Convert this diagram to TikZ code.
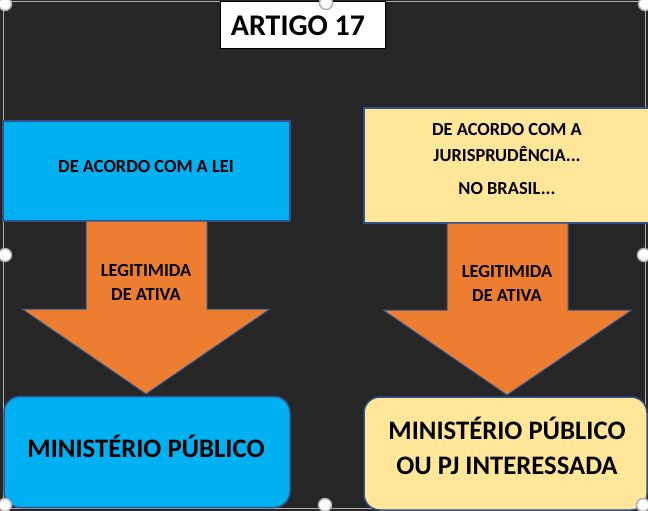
\documentclass[tikz,border=0pt]{standalone}
\usepackage{fontspec}
\setmainfont{Carlito}
\definecolor{bgdark}{HTML}{262626}
\definecolor{boxblue}{HTML}{00B0F0}
\definecolor{boxyellow}{HTML}{FFE699}
\definecolor{arroworange}{HTML}{ED7D31}
\definecolor{edgeblue}{HTML}{2F528F}
\definecolor{framegray}{HTML}{B0B0B0}
\tikzset{
  plainbox/.style={draw=edgeblue, line width=1.5pt, inner sep=0pt, align=center},
  roundbox/.style={plainbox, rounded corners=16pt},
  smalltxt/.style={font=\fontsize{18.4}{25}\selectfont\bfseries, align=center, inner sep=0pt},
  bigtxt/.style={font=\fontsize{26.7}{35}\selectfont\bfseries, align=center, inner sep=0pt},
  blockarrow/.style={fill=arroworange, draw=edgeblue, line width=1pt, line join=miter},
  handle/.style={circle, fill=white, draw=framegray, line width=1.5pt, minimum size=13pt, inner sep=0pt},
}
\begin{document}
\begin{tikzpicture}[x=1pt,y=-1pt]
\useasboundingbox (0,0) rectangle (648,511);
\begin{scope}
\clip (0,0) rectangle (648,511);
\fill[bgdark] (0,0) rectangle (648,511);
% frame
\draw[framegray, line width=1pt] (3,2) rectangle (645,508);
% title
\node[draw=black, fill=white, line width=0.8pt, minimum width=165pt, minimum height=47pt, inner sep=0pt] (title) at (302.5,24.5) {};
\node[font=\fontsize{30}{31}\selectfont\bfseries, inner sep=0pt, anchor=base] (titletxt) at (298,36) {ARTIGO 17};
% top boxes
\node[plainbox, fill=boxblue, minimum width=287pt, minimum height=100pt] (lei) at (146.5,171) {};
\node[smalltxt] (leitxt) at (146,167) {DE ACORDO COM A LEI};
\node[plainbox, fill=boxyellow, minimum width=286pt, minimum height=115pt] (jur) at (507,165.5) {};
\node[smalltxt, anchor=base] (jur1) at (507,135) {DE ACORDO COM A};
\node[smalltxt, anchor=base] (jur2) at (507,161) {JURISPRUDÊNCIA...};
\node[smalltxt, anchor=base] (jur3) at (507,194) {NO BRASIL...};
% arrows
\draw[blockarrow] (86,221) -- (207,221) -- (207,309) -- (270,309) -- (146,394) -- (22,309) -- (86,309) -- cycle;
\draw[blockarrow] (447,223) -- (568,223) -- (568,310) -- (632,310) -- (507,395) -- (383,310) -- (447,310) -- cycle;
\node[smalltxt, anchor=base] (la1) at (146,276) {LEGITIMIDA};
\node[smalltxt, anchor=base] (la2) at (146,300) {DE ATIVA};
\node[smalltxt, anchor=base] (ra1) at (507,277) {LEGITIMIDA};
\node[smalltxt, anchor=base] (ra2) at (507,301) {DE ATIVA};
% bottom boxes
\node[roundbox, fill=boxblue, minimum width=286pt, minimum height=111pt] (mp) at (147,452) {};
\node[bigtxt] (mptxt) at (146,446) {MINISTÉRIO PÚBLICO};
\node[roundbox, fill=boxyellow, minimum width=283pt, minimum height=113pt] (mppj) at (505.5,453.5) {};
\node[bigtxt, anchor=base] (mppj1) at (507,439) {MINISTÉRIO PÚBLICO};
\node[bigtxt, anchor=base] (mppj2) at (507,474) {OU PJ INTERESSADA};
% selection handles
\node[handle] (h1) at (5,4) {};
\node[handle] (h2) at (326,3) {};
\node[handle] (h3) at (645,4) {};
\node[handle] (h4) at (5,255) {};
\node[handle] (h5) at (644,255) {};
\node[handle] (h6) at (5,505) {};
\node[handle] (h7) at (325,505) {};
\node[handle] (h8) at (643,505) {};
\end{scope}
\end{tikzpicture}
\end{document}
